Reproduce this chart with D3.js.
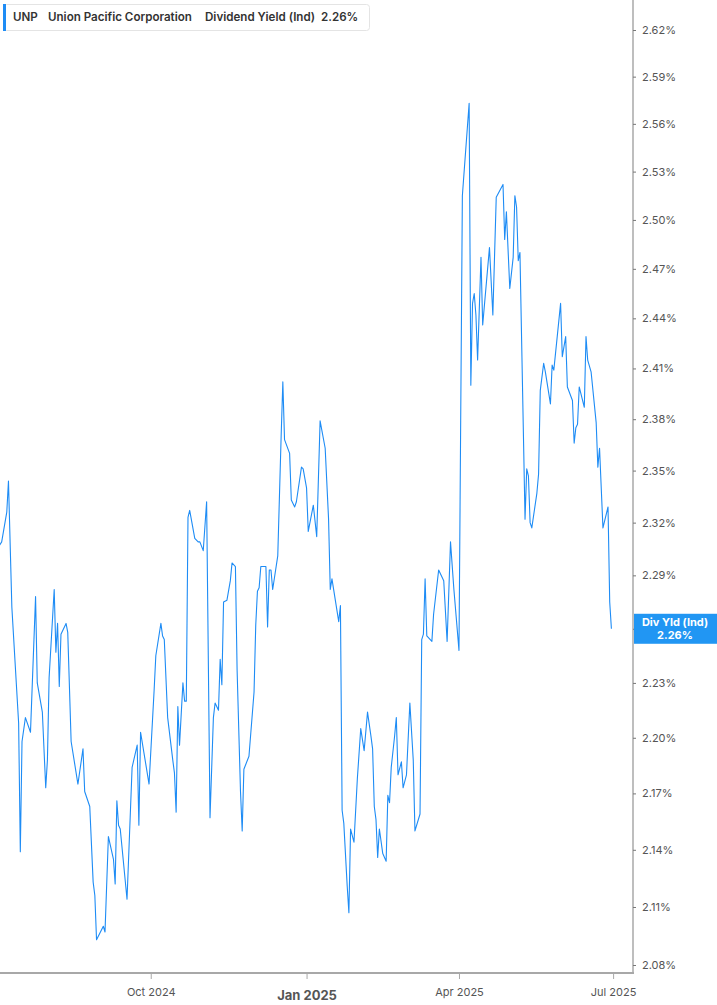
<!DOCTYPE html>
<html>
<head>
<meta charset="utf-8">
<script src="https://cdn.jsdelivr.net/npm/d3@7"></script>
<style>
  html, body { margin: 0; padding: 0; background: #fff; }
  svg { display: block; font-family: Inter, "Noto Sans", sans-serif; }
</style>
</head>
<body>
<script>
// UNP dividend yield (indicated)
var dates = [
  '2024-07-03','2024-07-05','2024-07-08','2024-07-09','2024-07-11','2024-07-15','2024-07-16','2024-07-17','2024-07-19','2024-07-22',
  '2024-07-25','2024-07-26','2024-07-29','2024-07-31','2024-08-01','2024-08-02','2024-08-05','2024-08-06','2024-08-07','2024-08-08',
  '2024-08-09','2024-08-12','2024-08-13','2024-08-15','2024-08-19','2024-08-22','2024-08-23','2024-08-26','2024-08-28','2024-08-29',
  '2024-08-30','2024-09-03','2024-09-04','2024-09-06','2024-09-09','2024-09-10','2024-09-11','2024-09-12','2024-09-13','2024-09-17',
  '2024-09-20','2024-09-23','2024-09-24','2024-09-25','2024-09-30','2024-10-03','2024-10-04','2024-10-07','2024-10-08','2024-10-09',
  '2024-10-11','2024-10-14','2024-10-15','2024-10-16','2024-10-17','2024-10-18','2024-10-20','2024-10-21','2024-10-22','2024-10-23',
  '2024-10-24','2024-10-27','2024-10-29','2024-10-30','2024-11-01','2024-11-03','2024-11-05','2024-11-07','2024-11-08','2024-11-10',
  '2024-11-11','2024-11-12','2024-11-13','2024-11-15','2024-11-17','2024-11-18','2024-11-20','2024-11-21','2024-11-23','2024-11-24',
  '2024-11-25','2024-11-28','2024-12-01','2024-12-02','2024-12-03','2024-12-04','2024-12-05','2024-12-08','2024-12-09','2024-12-10',
  '2024-12-11','2024-12-12','2024-12-15','2024-12-17','2024-12-18','2024-12-19','2024-12-22','2024-12-23','2024-12-25','2024-12-26',
  '2024-12-29','2024-12-30','2025-01-01','2025-01-02','2025-01-05','2025-01-07','2025-01-09','2025-01-12','2025-01-14','2025-01-15',
  '2025-01-16','2025-01-20','2025-01-21','2025-01-22','2025-01-23','2025-01-25','2025-01-26','2025-01-27','2025-01-29','2025-01-31',
  '2025-02-02','2025-02-04','2025-02-06','2025-02-08','2025-02-09','2025-02-10','2025-02-11','2025-02-12','2025-02-13','2025-02-15',
  '2025-02-17','2025-02-18','2025-02-19','2025-02-20','2025-02-22','2025-02-23','2025-02-24','2025-02-26','2025-02-27','2025-03-01',
  '2025-03-03','2025-03-05','2025-03-06','2025-03-09','2025-03-10','2025-03-11','2025-03-12','2025-03-13','2025-03-16','2025-03-17',
  '2025-03-20','2025-03-23','2025-03-25','2025-03-27','2025-03-29','2025-04-01','2025-04-03','2025-04-07','2025-04-08','2025-04-09',
  '2025-04-10','2025-04-11','2025-04-12','2025-04-14','2025-04-15','2025-04-19','2025-04-21','2025-04-23','2025-04-27','2025-04-28',
  '2025-04-29','2025-05-01','2025-05-03','2025-05-04','2025-05-05','2025-05-06','2025-05-07','2025-05-10','2025-05-11','2025-05-12',
  '2025-05-13','2025-05-14','2025-05-17','2025-05-18','2025-05-19','2025-05-21','2025-05-22','2025-05-25','2025-05-26','2025-05-27',
  '2025-05-31','2025-06-01','2025-06-03','2025-06-04','2025-06-07','2025-06-08','2025-06-09','2025-06-10','2025-06-11','2025-06-14',
  '2025-06-15','2025-06-16','2025-06-18','2025-06-21','2025-06-22','2025-06-23','2025-06-25','2025-06-28','2025-06-29','2025-06-30'
];

var yields = [
  2.306,2.309,2.326,2.344,2.272,2.208,2.139,2.198,2.211,2.203,
  2.278,2.230,2.214,2.173,2.188,2.233,2.282,2.247,2.263,2.228,
  2.257,2.263,2.258,2.198,2.175,2.194,2.171,2.163,2.123,2.116,
  2.093,2.100,2.097,2.147,2.135,2.122,2.166,2.153,2.151,2.114,
  2.184,2.196,2.153,2.203,2.175,2.226,2.245,2.263,2.256,2.254,
  2.211,2.188,2.181,2.160,2.217,2.196,2.230,2.220,2.220,2.323,
  2.327,2.311,2.309,2.309,2.304,2.332,2.157,2.211,2.219,2.215,
  2.243,2.229,2.275,2.276,2.287,2.297,2.295,2.237,2.171,2.150,
  2.183,2.190,2.225,2.262,2.281,2.283,2.295,2.295,2.261,2.293,
  2.293,2.282,2.301,2.370,2.402,2.368,2.360,2.333,2.329,2.332,
  2.352,2.351,2.340,2.315,2.330,2.312,2.379,2.363,2.322,2.282,
  2.288,2.264,2.273,2.161,2.154,2.121,2.107,2.151,2.144,2.178,
  2.205,2.193,2.214,2.201,2.194,2.163,2.156,2.136,2.151,2.138,
  2.134,2.169,2.165,2.184,2.201,2.211,2.180,2.187,2.173,2.180,
  2.219,2.188,2.150,2.159,2.254,2.257,2.288,2.256,2.253,2.268,
  2.293,2.287,2.253,2.309,2.282,2.248,2.515,2.573,2.400,2.449,
  2.455,2.442,2.415,2.477,2.436,2.483,2.442,2.514,2.522,2.488,
  2.505,2.458,2.477,2.515,2.508,2.475,2.480,2.322,2.351,2.347,
  2.320,2.317,2.337,2.348,2.397,2.413,2.408,2.389,2.412,2.409,
  2.449,2.417,2.429,2.399,2.391,2.366,2.375,2.377,2.399,2.387,
  2.429,2.415,2.408,2.378,2.352,2.363,2.317,2.329,2.275,2.260
];

var yTicks = [2.08, 2.11, 2.14, 2.17, 2.20, 2.23, 2.26, 2.29, 2.32, 2.35, 2.38, 2.41, 2.44, 2.47, 2.50, 2.53, 2.56, 2.59, 2.62];
var xTickDates = ['2024-10-01', '2025-01-01', '2025-04-01', '2025-07-01'];
var xTickLabels = ['Oct 2024', 'Jan 2025', 'Apr 2025', 'Jul 2025'];

var ticker = 'UNP';
var company = 'Union Pacific Corporation';
var metric = 'Dividend Yield (Ind)';
var lastLabel = 'Div Yld (Ind)';

var blue = '#1e8cf5';
var parse = d3.timeParse('%Y-%m-%d');

var data = dates.map(function(d, i) { return { date: parse(d), value: yields[i] }; });
var last = data[data.length - 1];

var W = 717, H = 1005;
var plotR = 633, plotB = 973;

var svg = d3.select('body').append('svg')
	.attr('width', W)
	.attr('height', H);

var x = d3.scaleTime()
	.domain([new Date(2024, 6, 4), new Date(2025, 6, 12, 18)])
	.range([0, plotR]);

var y = d3.scaleLog()
	.domain([2.08, 2.62])
	.range([965, 30]);

svg.append('clipPath').attr('id', 'plot')
	.append('rect')
	.attr('x', 0).attr('y', 0)
	.attr('width', plotR).attr('height', plotB);

// line
var line = d3.line()
	.x(function(d) { return x(d.date); })
	.y(function(d) { return y(d.value); });

svg.append('path')
	.datum(data)
	.attr('clip-path', 'url(#plot)')
	.attr('d', line)
	.attr('fill', 'none')
	.attr('stroke', blue)
	.attr('stroke-width', 1.1)
	.attr('stroke-linejoin', 'round');

// right axis (the tick at the last value sits under the value box)
var yAxis = svg.append('g')
	.attr('transform', 'translate(' + plotR + ',0)')
	.call(d3.axisRight(y)
		.tickValues(yTicks)
		.tickSize(3)
		.tickPadding(6)
		.tickFormat(function(d) {
			return d.toFixed(2) == last.value.toFixed(2) ? '' : d.toFixed(2) + '%';
		}));

yAxis.select('.domain')
	.attr('d', 'M0,0V' + plotB)
	.attr('stroke', '#a8a8a8')
	.attr('stroke-width', 1.5);
yAxis.selectAll('.tick line').attr('stroke', '#777');
yAxis.selectAll('.tick text')
	.attr('fill', '#555')
	.attr('font-size', 11)
	.attr('font-family', 'Inter, sans-serif');

// bottom axis
var xAxis = svg.append('g')
	.attr('transform', 'translate(0,' + plotB + ')')
	.call(d3.axisBottom(x)
		.tickValues(xTickDates.map(parse))
		.tickSize(6)
		.tickPadding(9)
		.tickFormat(function(d, i) { return xTickLabels[i]; }));

xAxis.select('.domain')
	.attr('d', 'M0,0H' + (plotR + 1))
	.attr('stroke', '#a8a8a8')
	.attr('stroke-width', 2);
xAxis.selectAll('.tick line').attr('stroke', '#a8a8a8');
xAxis.selectAll('.tick text')
	.attr('fill', '#555')
	.attr('font-size', 11)
	.attr('font-family', 'Inter, sans-serif')
	.filter(function(d, i) { return xTickLabels[i] == 'Jan 2025'; })
	.attr('font-size', 13)
	.attr('font-weight', 700)
	.attr('dy', '0.9em');

// last value label
var ly = y(last.value);
svg.append('rect')
	.attr('x', plotR + 1)
	.attr('y', ly - 15)
	.attr('width', W - plotR - 1)
	.attr('height', 30)
	.attr('fill', '#2196f3');

svg.append('text')
	.attr('x', (plotR + W) / 2)
	.attr('y', ly - 3)
	.attr('text-anchor', 'middle')
	.attr('fill', '#fff')
	.attr('font-size', 11)
	.attr('font-weight', 700)
	.text(lastLabel);

svg.append('text')
	.attr('x', (plotR + W) / 2)
	.attr('y', ly + 10)
	.attr('text-anchor', 'middle')
	.attr('fill', '#fff')
	.attr('font-size', 11)
	.attr('font-weight', 700)
	.text(last.value.toFixed(2) + '%');

// legend
var legend = svg.append('g');
legend.append('rect')
	.attr('x', 3.5).attr('y', 4.5)
	.attr('width', 366).attr('height', 26)
	.attr('rx', 3)
	.attr('fill', '#fff')
	.attr('stroke', '#e4e4e4');
legend.append('rect')
	.attr('x', 3).attr('y', 4)
	.attr('width', 3).attr('height', 27)
	.attr('fill', blue);

var parts = [
	{ t: ticker, x: 13 },
	{ t: company, x: 48 },
	{ t: metric, x: 205 },
	{ t: last.value.toFixed(2) + '%', x: 321 }
];
legend.selectAll('text.lg')
	.data(parts)
	.enter().append('text')
	.attr('class', 'lg')
	.attr('x', function(d) { return d.x; })
	.attr('y', 21)
	.attr('fill', '#333')
	.attr('font-size', 11.6)
	.attr('font-weight', 600)
	.text(function(d) { return d.t; });
</script>
</body>
</html>
